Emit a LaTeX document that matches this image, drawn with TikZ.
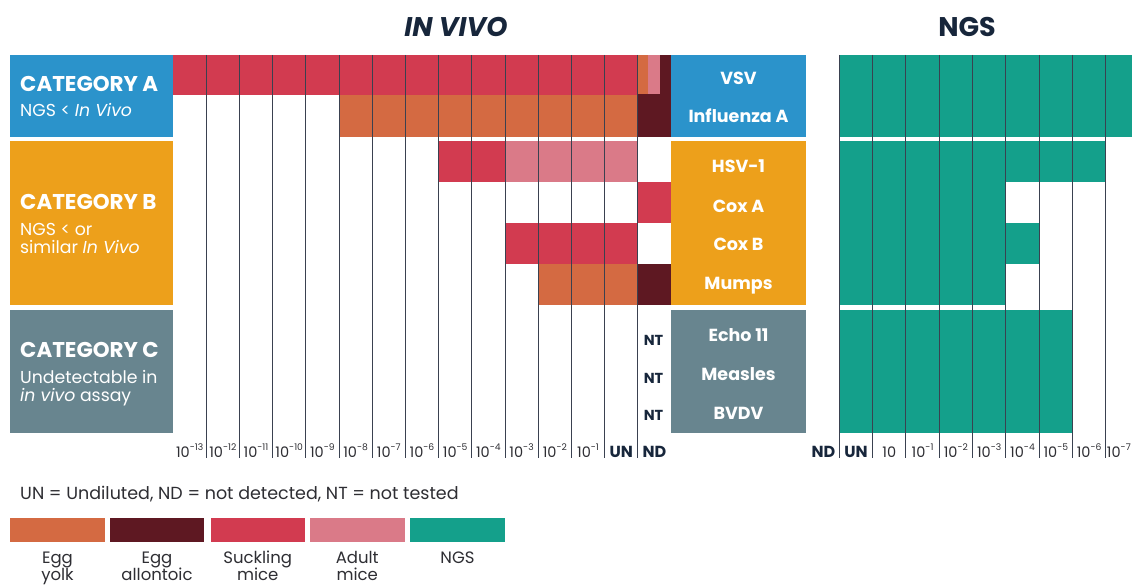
\documentclass[tikz,border=0pt]{standalone}
\usepackage{fontspec}
\setmainfont{Poppins}
\definecolor{catA}{HTML}{2B93CB}
\definecolor{catB}{HTML}{EDA01B}
\definecolor{catC}{HTML}{68858F}
\definecolor{suck}{HTML}{D23B50}
\definecolor{adult}{HTML}{DA7A88}
\definecolor{yolk}{HTML}{D46A42}
\definecolor{allan}{HTML}{5E1822}
\definecolor{ngs}{HTML}{14A08B}
\definecolor{gridline}{HTML}{3A4150}
\definecolor{titlecol}{HTML}{17263B}
\definecolor{txt}{HTML}{2E2E33}
\newcommand\tenp[1]{10\raisebox{0.42em}{\fontsize{9.2}{9.2}\selectfont -#1}}
\tikzset{
  cattitle/.style={anchor=base west, inner sep=0pt, text=white, font=\fontsize{21.4}{23}\selectfont\bfseries},
  catsub/.style={anchor=base west, inner sep=0pt, text=white, font=\fontsize{17.3}{19}\selectfont},
  rowlab/.style={anchor=base, inner sep=0pt, text=white, font=\fontsize{17.5}{19}\selectfont\bfseries},
  ntlab/.style={anchor=base, inner sep=0pt, text=titlecol, font=\fontsize{14.5}{16}\selectfont\bfseries},
  axislab/.style={anchor=base, inner sep=0pt, text=txt, font=\fontsize{14.5}{16}\selectfont},
  axisbold/.style={anchor=base, inner sep=0pt, text=titlecol, font=\fontsize{16}{18}\selectfont\bfseries},
  bigtitle/.style={anchor=base, inner sep=0pt, text=titlecol, font=\fontsize{27}{30}\selectfont\bfseries},
  legtext/.style={anchor=base, inner sep=0pt, text=txt, font=\fontsize{17.5}{19}\selectfont},
  legsmall/.style={anchor=base, inner sep=0pt, text=txt, font=\fontsize{16.5}{18}\selectfont},
  gline/.style={draw=gridline, line width=0.9pt},
}
\begin{document}
\begin{tikzpicture}[x=1pt,y=-1pt]
\useasboundingbox[fill=white] (0,0) rectangle (1132,588);
% titles
\node[bigtitle, font=\fontsize{27}{30}\selectfont\bfseries\itshape] (tinvivo) at (456,36.5) {IN VIVO};
\node[bigtitle] (tngs) at (967,36.5) {NGS};
% category boxes
\fill[catA] (10,55) rectangle (173,137);
\fill[catB] (10,141) rectangle (173,305);
\fill[catC] (10,310) rectangle (173,433);
% label boxes
\fill[catA] (671,55) rectangle (806,137);
\fill[catB] (671,141) rectangle (806,305);
\fill[catC] (671,310) rectangle (806,433);
% in vivo bars
\fill[suck] (173,55) rectangle (637.8,95);
\fill[allan] (637.8,55) rectangle (671,137);
\fill[yolk] (637.8,55) rectangle (648.3,94.5);
\fill[adult] (648.3,55) rectangle (659.8,94.5);
\fill[yolk] (339,95) rectangle (637.8,137);
\fill[suck] (438.6,141) rectangle (505,182);
\fill[adult] (505,141) rectangle (637.8,182);
\fill[suck] (637.8,182) rectangle (671,223);
\fill[suck] (505,223) rectangle (637.8,264);
\fill[yolk] (538.2,264) rectangle (637.8,305);
\fill[allan] (637.8,264) rectangle (671,305);
% NGS bars
\fill[ngs] (839.3,55) rectangle (1132,137);
\fill[ngs] (839.3,141) rectangle (1105.7,182);
\fill[ngs] (839.3,182) rectangle (1005.8,223);
\fill[ngs] (839.3,223) rectangle (1039.1,264);
\fill[ngs] (839.3,264) rectangle (1005.8,305);
\fill[ngs] (839.3,310) rectangle (1072.4,433);
% grid lines
\foreach \k in {1,...,14} { \draw[gline] ({173+33.2*\k},55) -- ({173+33.2*\k},458); }
\foreach \k in {0,...,8} { \draw[gline] ({839.3+33.3*\k},55) -- ({839.3+33.3*\k},458); }
% category texts
\node[cattitle] (catAt) at (20,92) {CATEGORY A};
\node[catsub] (catAs) at (20,117) {NGS < \textit{In Vivo}};
\node[cattitle] (catBt) at (20,210) {CATEGORY B};
\node[catsub] (catBs1) at (20,235) {NGS < or};
\node[catsub] (catBs2) at (20,253.5) {similar \textit{In Vivo}};
\node[cattitle] (catCt) at (20,357) {CATEGORY C};
\node[catsub] (catCs1) at (20,383) {Undetectable in};
\node[catsub] (catCs2) at (20,401.5) {\textit{in vivo} assay};
% row labels
\node[rowlab] (vsv) at (738.5,85) {VSV};
\node[rowlab] (flu) at (738.5,123) {Influenza A};
\node[rowlab] (hsv) at (738.5,173) {HSV-1};
\node[rowlab] (coxa) at (738.5,212) {Cox A};
\node[rowlab] (coxb) at (738.5,251) {Cox B};
\node[rowlab] (mumps) at (738.5,289) {Mumps};
\node[rowlab] (echo) at (738.5,341) {Echo 11};
\node[rowlab] (measles) at (738.5,380) {Measles};
\node[rowlab] (bvdv) at (738.5,419) {BVDV};
\node[ntlab] (nt1) at (653.5,345) {NT};
\node[ntlab] (nt2) at (653.5,383) {NT};
\node[ntlab] (nt3) at (653.5,420.5) {NT};
% in vivo axis labels
\foreach \k in {0,...,12} {
  \pgfmathtruncatemacro\e{13-\k}
  \node[axislab] (iv\k) at ({189.6+33.2*\k},457) {\tenp{\e}};
}
\node[axisbold] (ivun) at (621.2,457) {UN};
\node[axisbold] (ivnd) at (654.4,457) {ND};
% NGS axis labels
\node[axisbold] (ngsnd) at (823.5,457) {ND};
\node[axisbold] (ngsun) at (856,457) {UN};
\node[axislab] (ngs10) at (889.3,457) {10};
\foreach \k in {1,...,6} {
  \node[axislab] (ng\k) at ({889.3+33.3*\k},457) {\tenp{\k}};
}
\node[axislab, anchor=base east] (ng7) at (1131,457) {\tenp{7}};
% legend
\node[legtext, anchor=base west] (note) at (20,499) {UN = Undiluted, ND = not detected, NT = not tested};
\fill[yolk] (10,518) rectangle (105,542);
\fill[allan] (110,518) rectangle (204,542);
\fill[suck] (210.5,518) rectangle (305,542);
\fill[adult] (310,518) rectangle (404.5,542);
\fill[ngs] (410,518) rectangle (505,542);
\node[legsmall] (l1a) at (57.5,563) {Egg};
\node[legsmall] (l1b) at (57.5,580.5) {yolk};
\node[legsmall] (l2a) at (157,563) {Egg};
\node[legsmall] (l2b) at (157,580.5) {allontoic};
\node[legsmall] (l3a) at (257.7,563) {Suckling};
\node[legsmall] (l3b) at (257.7,580.5) {mice};
\node[legsmall] (l4a) at (357.2,563) {Adult};
\node[legsmall] (l4b) at (357.2,580.5) {mice};
\node[legsmall] (l5a) at (457.5,563) {NGS};
\end{tikzpicture}
\end{document}
